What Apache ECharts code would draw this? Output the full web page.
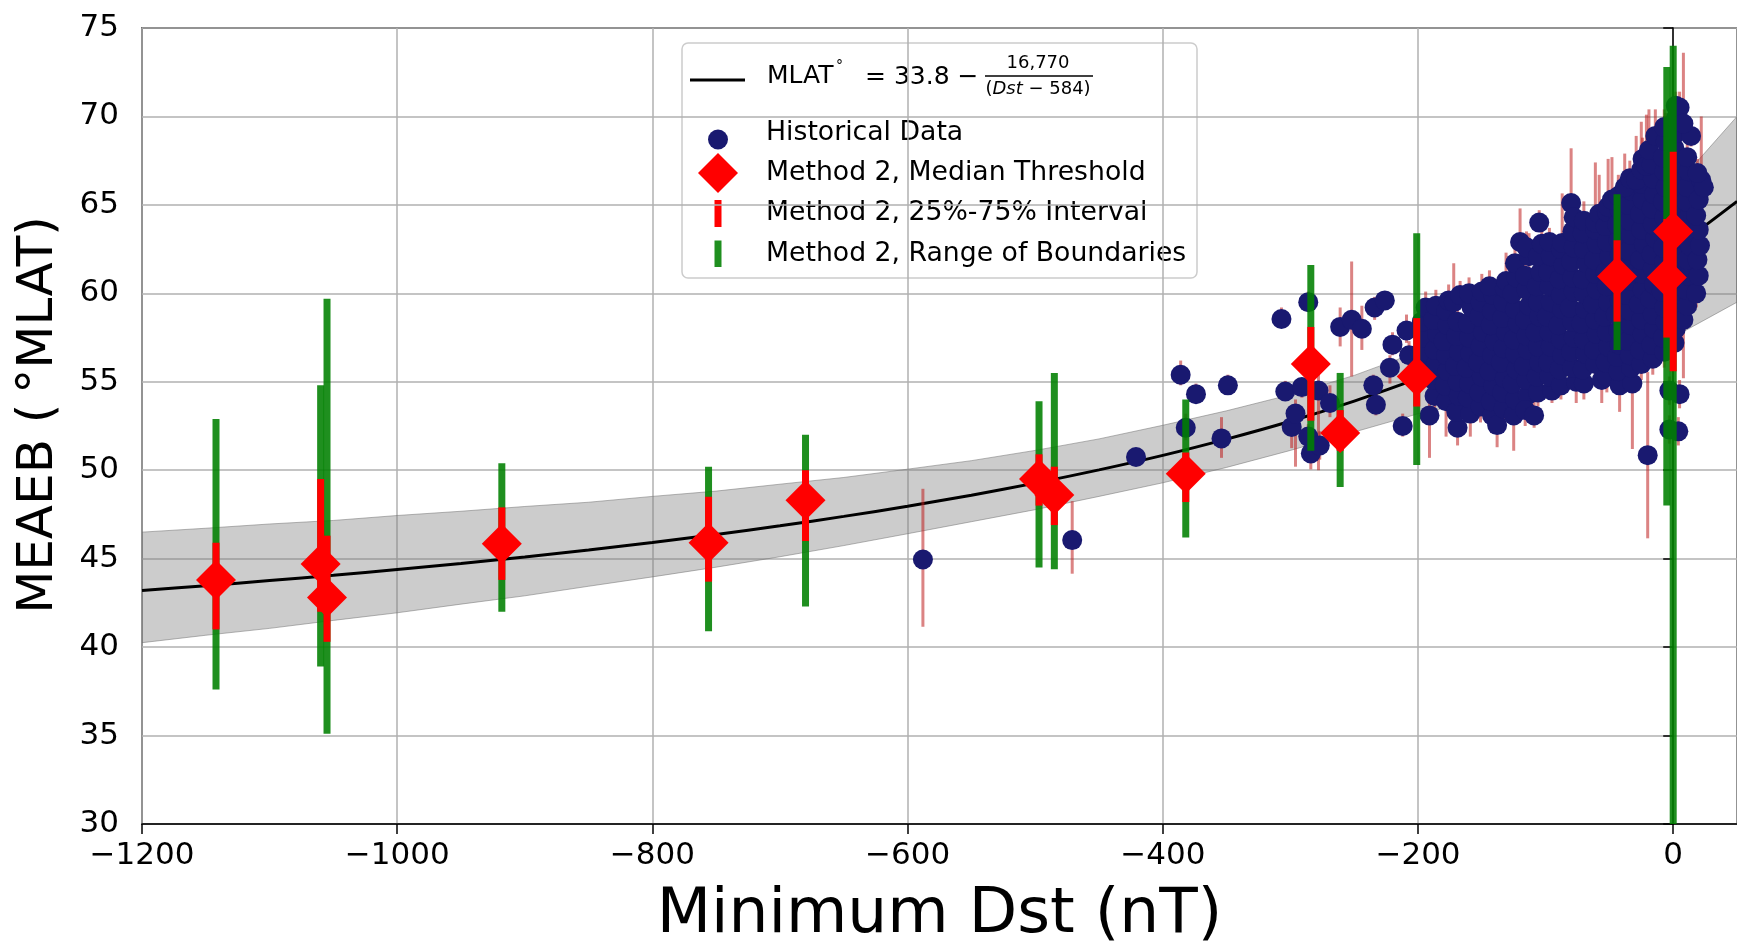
<!DOCTYPE html>
<html>
<head>
<meta charset="utf-8">
<script src="https://cdn.jsdelivr.net/npm/echarts@6/dist/echarts.min.js"></script>
<style>
  html, body { margin: 0; padding: 0; background: #ffffff; }
  #chart { width: 1737px; height: 947px; }
</style>
</head>
<body>
<div id="chart"></div>
<script>
// ---- axis ticks ----
const dstTicks = [-1200, -1000, -800, -600, -400, -200, 0];
const mlatTicks = [30, 35, 40, 45, 50, 55, 60, 65, 70, 75];

// ---- fitted boundary MLAT = 33.8 - 16770/(Dst - 584), sampled every 50 nT ----
const fitDst  = [-1200,-1150,-1100,-1050,-1000,-950,-900,-850,-800,-750,-700,-650,-600,-550,-500,-450,-400,-350,-300,-250,-200,-150,-100,-50,0,50];
const fitMlat = [43.20,43.47,43.76,44.06,44.39,44.73,45.10,45.49,45.92,46.37,46.86,47.39,47.96,48.59,49.27,50.02,50.84,51.76,52.77,53.91,55.19,56.65,58.32,60.25,62.52,65.20];

// ---- uncertainty band around the fit ----
const bandHigh = [46.50,46.72,46.96,47.16,47.44,47.68,47.95,48.19,48.52,48.82,49.21,49.59,50.06,50.54,51.12,51.77,52.54,53.36,54.27,55.36,56.69,58.45,60.52,62.95,65.92,70.00];
const bandLow  = [40.25,40.67,41.06,41.51,41.94,42.43,42.90,43.44,43.97,44.52,45.11,45.74,46.41,47.09,47.77,48.52,49.29,50.16,51.12,52.16,53.19,53.95,54.92,56.05,57.52,59.50];

// ---- Method 2 storms ----
const m2Dst    = [-1142,-1060,-1055,-918,-756,-680,-497,-485,-382,-284,-261,-201,-44,-5,0];
const m2Median = [43.8,44.7,42.8,45.85,45.9,48.3,49.5,48.6,49.8,56.0,52.1,55.3,60.95,60.9,63.5];
const m2Q25    = [41.0,42.0,40.3,43.8,43.7,46.0,48.0,46.9,48.2,52.8,51.1,53.6,58.4,57.5,55.6];
const m2Q75    = [45.9,49.5,46.3,47.9,48.5,50.0,50.9,50.2,51.0,58.1,53.4,58.6,63.0,64.2,68.0];
const m2Min    = [37.6,38.9,35.1,42.0,40.9,42.3,44.5,44.4,46.2,51.1,49.05,50.3,56.8,48.0,30.0];
const m2Max    = [52.9,54.8,59.7,50.4,50.2,52.0,53.9,55.5,54.0,61.6,55.5,63.4,65.6,72.8,74.0];

// ---- historical events: [Dst, MLAT, error below, error above] ----
const historical = [
  [-588,44.95,3.8,4.0],[-471,46.05,1.9,2.2],[-421,50.75,0.4,0.4],[-386,55.4,0.6,0.8],[-382,52.4,0.7,0.8],
  [-374,54.3,0.5,0.6],[-354,51.8,1.1,1.2],[-349,54.8,0.5,0.6],[-307,58.55,0.4,0.65],[-304,54.45,0.5,0.6],
  [-299,52.45,1.2,0.7],[-296,53.2,3.0,0.8],[-291,54.7,0.6,0.5],[-286,59.5,0.5,0.6],[-286,51.9,0.8,0.7],
  [-284,50.95,0.9,0.8],[-278,54.5,4.5,2.1],[-277,51.4,0.8,0.8],[-269,53.8,0.8,1.0],[-261,58.1,1.1,1.1],
  [-252,58.5,3.2,3.3],[-244,58.0,1.2,1.3],[-234,59.2,0.7,0.6],[-226,59.6,0.5,0.5],[-235,54.8,0.5,0.6],
  [-233,53.7,0.6,0.7],[-220,57.1,0.6,0.7],[-222,55.8,0.9,0.7],[-212,52.5,0.6,0.7],[-209,57.9,0.7,0.9],
  [-207,56.5,0.8,0.8],[-191,53.1,2.4,0.7],
  [-196,55.7,0.9,0.8],[-198,56.6,0.8,0.8],[-195,57.5,0.8,0.7],[-197,58.4,0.7,0.8],[-194,59.2,0.6,0.9],
  [-187,54.2,1.0,0.8],[-188,55.1,0.8,0.9],[-186,56.0,0.8,0.8],[-187,56.8,0.9,0.8],[-185,57.7,0.8,0.8],[-188,58.5,0.8,0.8],[-186,59.3,0.6,0.9],
  [-178,53.9,2.0,0.8],[-179,54.8,0.8,0.8],[-177,55.6,0.9,0.8],[-178,56.5,0.8,0.9],[-180,57.3,0.8,0.8],[-177,58.2,0.8,0.7],[-178,59.0,0.7,0.8],[-176,59.6,0.6,0.9],
  [-169,52.4,1.0,0.8],[-170,53.3,0.8,0.8],[-168,54.2,0.8,0.9],[-169,55.0,0.9,0.8],[-171,55.9,0.8,0.8],[-168,56.7,0.8,0.8],[-170,57.6,0.8,0.9],[-169,58.4,0.7,0.8],[-172,59.5,0.5,2.2],[-167,59.9,0.6,0.8],
  [-159,53.2,1.3,0.8],[-161,54.1,0.9,0.8],[-160,54.9,0.8,0.8],[-162,55.8,0.8,0.9],[-159,56.6,0.9,0.8],[-160,57.5,0.8,0.8],[-161,58.3,0.8,0.7],[-158,59.2,0.8,0.8],[-160,60.0,0.6,0.9],
  [-151,53.6,0.9,0.8],[-152,54.4,0.8,0.8],[-150,55.3,0.9,0.8],[-153,56.1,0.8,0.8],[-151,57.0,0.8,0.9],[-149,57.8,0.8,0.8],[-152,58.7,0.8,0.8],[-151,59.5,0.7,0.8],[-150,60.1,0.6,1.0],
  [-142,53.1,1.0,0.8],[-143,53.9,0.8,0.8],[-141,54.8,0.8,0.9],[-144,55.6,0.9,0.8],[-142,56.5,0.8,0.8],[-140,57.3,0.8,0.8],[-143,58.2,0.8,0.9],[-142,59.0,0.7,0.8],[-141,59.9,0.8,0.8],[-144,60.4,0.6,0.9],
  [-138,52.55,1.25,0.8],[-133,53.5,0.9,0.8],[-134,54.4,0.8,0.9],[-132,55.2,0.8,0.8],[-135,56.1,0.9,0.8],[-133,56.9,0.8,0.8],[-131,57.8,0.8,0.8],[-134,58.6,0.8,0.9],[-133,59.5,0.7,0.8],[-132,60.3,0.7,0.8],[-131,60.7,0.6,1.6],
  [-125,53.1,2.0,0.8],[-124,54.0,0.8,0.8],[-126,54.9,0.9,0.8],[-123,55.7,0.8,0.8],[-124,56.6,0.8,0.9],[-125,57.4,0.8,0.8],[-122,58.3,0.9,0.8],[-124,59.1,0.8,0.8],[-126,60.0,0.8,0.8],[-123,60.9,0.7,0.8],[-120,62.9,0.5,1.9],[-124,61.7,0.7,0.9],
  [-114,54.25,0.8,0.8],[-116,53.4,0.9,0.8],[-115,55.1,0.8,0.8],[-117,55.9,0.9,0.8],[-114,56.8,0.8,0.8],[-115,57.6,0.8,0.9],[-116,58.5,0.8,0.8],[-113,59.3,0.9,0.8],[-115,60.2,0.8,0.8],[-116,61.0,0.7,0.8],[-113,62.1,0.6,1.3],[-115,62.6,0.6,0.9],
  [-109,53.1,0.7,0.8],[-106,54.4,0.8,0.8],[-107,55.3,0.8,0.9],[-105,56.1,0.8,0.8],[-106,57.0,0.9,0.8],[-108,57.8,0.8,0.8],[-105,58.7,0.8,0.8],[-106,59.5,0.8,0.9],[-107,60.4,0.8,0.8],[-104,61.2,0.7,0.8],[-106,62.1,0.7,0.8],[-105,64.0,0.5,0.7],[-103,62.8,0.6,0.9],
  [-95,54.5,0.7,0.8],[-97,55.3,0.8,0.8],[-98,56.1,0.9,0.8],[-96,57.0,0.8,0.8],[-97,57.8,0.8,0.9],[-99,58.7,0.8,0.8],[-96,59.5,0.8,0.8],[-97,60.4,0.8,0.8],[-98,61.2,0.7,0.9],[-96,62.1,0.7,0.8],[-97,62.9,0.6,0.8],
  [-88,54.8,0.8,0.8],[-89,55.7,0.9,0.8],[-87,56.5,0.8,0.8],[-88,57.4,0.8,0.9],[-90,58.2,0.8,0.8],[-87,59.1,0.8,0.8],[-88,59.9,0.8,0.8],[-89,60.8,0.7,0.9],[-86,61.6,0.8,0.8],[-88,62.5,0.7,0.8],[-87,62.85,0.6,2.8],
  [-76,55.0,1.2,0.8],[-79,55.8,0.8,0.8],[-80,56.7,0.8,0.9],[-78,57.5,0.9,0.8],[-79,58.4,0.8,0.8],[-81,59.2,0.8,0.8],[-78,60.1,0.8,0.9],[-79,60.9,0.8,0.8],[-80,61.8,0.7,0.8],[-78,62.6,0.8,0.8],[-79,63.5,0.7,0.9],[-80,65.1,0.6,3.1],[-78,64.3,0.6,1.0],
  [-70,54.9,0.9,0.8],[-71,55.7,0.8,0.8],[-69,56.6,0.8,0.9],[-70,57.4,0.9,0.8],[-72,58.3,0.8,0.8],[-69,59.1,0.8,0.8],[-70,60.0,0.8,0.8],[-71,60.8,0.8,0.9],[-68,61.7,0.8,0.8],[-70,62.5,0.7,0.8],[-71,63.4,0.7,0.8],[-70,64.1,0.6,1.1],
  [-56,55.1,1.3,0.8],[-61,56.0,0.8,0.8],[-62,56.8,0.8,0.9],[-60,57.7,0.9,0.8],[-61,58.5,0.8,0.8],[-63,59.4,0.8,0.8],[-60,60.2,0.8,0.9],[-61,61.1,0.8,0.8],[-62,61.9,0.7,0.8],[-60,62.8,0.8,0.8],[-61,63.6,0.7,0.9],[-61,64.0,0.6,3.4],[-58,64.5,0.6,2.2],
  [-52,55.3,0.9,0.8],[-53,56.1,0.8,0.8],[-51,57.0,0.8,0.9],[-52,57.8,0.9,0.8],[-54,58.7,0.8,0.8],[-51,59.5,0.8,0.8],[-52,60.4,0.8,0.9],[-53,61.2,0.8,0.8],[-50,62.1,0.7,0.8],[-52,62.9,0.8,0.8],[-53,63.8,0.7,0.8],[-52,64.6,0.7,0.9],[-51,64.9,0.6,2.7],
  [-42,54.8,1.5,0.7],[-43,55.6,0.8,0.8],[-44,56.4,0.9,0.8],[-42,57.1,0.8,0.8],[-43,57.9,0.8,0.9],[-45,58.8,0.8,0.8],[-42,59.6,0.8,0.8],[-43,60.5,0.8,0.8],[-44,61.3,0.7,0.9],[-42,62.2,0.8,0.8],[-43,63.0,0.7,0.8],[-44,63.9,0.7,0.8],[-42,64.7,0.7,0.9],[-48,65.3,0.6,2.4],[-43,65.5,0.6,1.2],
  [-32,54.9,3.7,0.8],[-33,55.8,1.0,0.8],[-34,56.5,0.8,0.8],[-35,57.3,0.8,0.9],[-33,58.2,0.9,0.8],[-34,59.0,0.8,0.8],[-36,59.9,0.8,0.8],[-33,60.7,0.8,0.9],[-34,61.6,0.8,0.8],[-35,62.4,0.7,0.8],[-33,63.3,0.8,0.8],[-34,64.1,0.7,0.9],[-35,65.0,0.7,0.8],[-33,65.8,0.7,0.8],[-38,66.0,0.5,1.9],[-34,66.5,0.6,1.0],
  [-25,56.0,0.9,0.8],[-26,56.8,0.8,0.8],[-24,57.7,0.8,0.9],[-25,58.5,0.9,0.8],[-27,59.4,0.8,0.8],[-24,60.2,0.8,0.8],[-25,61.1,0.8,0.9],[-26,61.9,0.8,0.8],[-23,62.8,0.7,0.8],[-25,63.6,0.8,0.8],[-26,64.5,0.7,0.8],[-24,65.3,0.7,0.9],[-25,66.2,0.7,0.8],[-29,66.4,0.6,2.5],[-25,67.0,0.6,2.7],[-24,67.6,0.6,1.2],
  [-16,56.3,0.9,0.8],[-17,57.1,0.8,0.8],[-15,58.0,0.8,0.9],[-16,58.8,0.9,0.8],[-18,59.7,0.8,0.8],[-15,60.5,0.8,0.8],[-16,61.4,0.8,0.9],[-17,62.2,0.8,0.8],[-14,63.1,0.7,0.8],[-16,63.9,0.8,0.8],[-17,64.8,0.7,0.8],[-15,65.6,0.7,0.9],[-16,66.5,0.7,0.8],[-21,67.2,0.6,2.9],[-17,67.3,0.6,1.4],[-19,68.1,0.6,2.3],[-14,68.9,0.6,1.5],
  [-7,56.7,0.9,0.8],[-8,57.5,0.8,0.8],[-6,58.4,0.8,0.9],[-7,59.2,0.9,0.8],[-9,60.1,0.8,0.8],[-6,60.9,0.8,0.8],[-7,61.8,0.8,0.9],[-8,62.6,0.8,0.8],[-5,63.5,0.7,0.8],[-7,64.3,0.8,0.8],[-8,65.2,0.7,0.8],[-6,66.0,0.7,0.9],[-7,66.9,0.7,0.8],[-8,67.7,0.7,0.8],[-6,68.6,0.6,1.6],[-7,69.4,0.6,1.0],
  [1,57.2,0.9,0.8],[2,58.0,0.8,0.8],[3,58.9,0.8,0.9],[1,59.7,0.9,0.8],[2,60.6,0.8,0.8],[4,61.4,0.8,0.8],[2,62.3,0.8,0.9],[1,63.1,0.8,0.8],[3,64.0,0.7,0.8],[2,64.8,0.8,0.8],[1,65.7,0.7,0.8],[3,66.5,0.7,0.9],[2,67.4,0.7,0.8],[1,68.2,0.7,0.8],[3,69.1,0.6,1.0],[2,69.9,0.6,0.9],[2,70.6,0.6,0.8],[5,70.5,0.6,0.9],
  [8,58.5,3.3,0.8],[11,59.3,0.8,0.8],[10,60.2,0.8,0.9],[12,61.0,0.9,0.8],[11,61.9,0.8,0.8],[13,62.7,0.8,0.8],[11,63.6,0.8,0.9],[12,64.3,0.8,0.8],[10,65.2,0.7,0.8],[11,66.0,0.8,0.8],[12,66.9,0.7,0.8],[11,67.7,0.7,0.9],[14,68.9,0.6,0.9],[8,69.6,0.7,4.0],
  [18,60.0,0.8,0.8],[20,61.0,0.8,0.8],[19,61.9,0.8,0.9],[21,62.7,0.9,0.8],[20,63.6,0.8,0.8],[18,64.4,0.8,0.8],[20,65.3,0.8,0.9],[22,66.4,0.6,3.6],[24,66.0,0.7,0.7],[19,66.8,0.7,0.8],
  [-20,50.85,4.7,4.7],[-3,54.5,0.8,0.8],[5,54.3,0.8,0.8],[4,52.2,0.8,0.8],[-3,52.3,0.8,0.8]
];

// ---- colours ----
const NAVY = '#191970';
const RED = '#ff0000';
const GREEN = 'rgba(0,128,0,0.88)';
const ERR = 'rgba(190,30,30,0.55)';
const FONT = 'DejaVu Sans';

const m2Range = m2Dst.map((d, i) => [d, m2Min[i], m2Max[i]]);
const m2Iqr = m2Dst.map((d, i) => [d, m2Q25[i], m2Q75[i]]);
const m2Mid = m2Dst.map((d, i) => [d, m2Median[i]]);

function fmtTick(v) {
  return v < 0 ? '\u2212' + Math.abs(v) : String(v);
}

// vertical bar of fixed pixel width from value(1) to value(2)
function barRenderer(width, color) {
  return function (params, api) {
    const top = api.coord([api.value(0), api.value(2)]);
    const bot = api.coord([api.value(0), api.value(1)]);
    return {
      type: 'rect',
      shape: { x: top[0] - width / 2, y: top[1], width: width, height: bot[1] - top[1] },
      style: { fill: color }
    };
  };
}

const chart = echarts.init(document.getElementById('chart'), null, { renderer: 'canvas' });

const LEG_FONT = '26.7px "DejaVu Sans"';
const legendItems = [
  { type: 'rect', shape: { x: 682, y: 43, width: 515, height: 235, r: 6 },
    style: { fill: 'rgba(255,255,255,0.8)', stroke: '#cccccc', lineWidth: 1.5 } },
  { type: 'line', shape: { x1: 690, y1: 80, x2: 745, y2: 80 }, style: { stroke: '#000', lineWidth: 3 } },
  { type: 'text', x: 767, y: 76, style: { text: 'MLAT', font: '25px "DejaVu Sans"', fill: '#000', align: 'left', verticalAlign: 'middle' } },
  { type: 'text', x: 836, y: 66, style: { text: '°', font: '14px "DejaVu Sans"', fill: '#000', align: 'left', verticalAlign: 'middle' } },
  { type: 'text', x: 865, y: 77, style: { text: '= 33.8 \u2212', font: '25px "DejaVu Sans"', fill: '#000', align: 'left', verticalAlign: 'middle' } },
  { type: 'text', x: 1038, y: 63, style: { text: '16,770', font: '18px "DejaVu Sans"', fill: '#000', align: 'center', verticalAlign: 'middle' } },
  { type: 'line', shape: { x1: 985, y1: 76, x2: 1093, y2: 76 }, style: { stroke: '#000', lineWidth: 1.3 } },
  { type: 'text', x: 1038, y: 89, style: {
      text: '({i|Dst} \u2212 584)', font: '18px "DejaVu Sans"', fill: '#000', align: 'center', verticalAlign: 'middle',
      rich: { i: { fontStyle: 'italic', fontSize: 18, fontFamily: FONT, fill: '#000' } } } },
  { type: 'circle', shape: { cx: 718, cy: 139.5, r: 10 }, style: { fill: NAVY } },
  { type: 'text', x: 766, y: 133, style: { text: 'Historical Data', font: LEG_FONT, fill: '#000', align: 'left', verticalAlign: 'middle' } },
  { type: 'polygon', shape: { points: [[718, 153], [738, 173], [718, 193], [698, 173]] }, style: { fill: RED } },
  { type: 'text', x: 766, y: 173, style: { text: 'Method 2, Median Threshold', font: LEG_FONT, fill: '#000', align: 'left', verticalAlign: 'middle' } },
  { type: 'rect', shape: { x: 714.5, y: 200, width: 7, height: 27 }, style: { fill: RED } },
  { type: 'text', x: 766, y: 213, style: { text: 'Method 2, 25%-75% Interval', font: LEG_FONT, fill: '#000', align: 'left', verticalAlign: 'middle' } },
  { type: 'rect', shape: { x: 714.5, y: 240.5, width: 7, height: 26.5 }, style: { fill: GREEN } },
  { type: 'text', x: 766, y: 254, style: { text: 'Method 2, Range of Boundaries', font: LEG_FONT, fill: '#000', align: 'left', verticalAlign: 'middle' } }
];

const option = {
  animation: false,
  backgroundColor: '#ffffff',
  grid: { left: 142, right: 0, top: 28, bottom: 123, containLabel: false, outerBoundsMode: 'none',
    show: true, borderColor: '#000', borderWidth: 1.5, backgroundColor: 'transparent' },
  xAxis: {
    type: 'value', min: dstTicks[0], max: 50, interval: 200,
    name: 'Minimum Dst (nT)', nameLocation: 'middle', nameGap: 60,
    nameTextStyle: { fontSize: 63, color: '#000', fontFamily: FONT },
    axisLine: { show: true, onZero: false, lineStyle: { color: '#000', width: 1.5 } },
    axisTick: { show: true, inside: false, length: 10, lineStyle: { color: '#000', width: 1.5 } },
    axisLabel: { fontSize: 31, color: '#000', fontFamily: FONT, margin: 16, showMaxLabel: false,
      formatter: v => (dstTicks.indexOf(v) >= 0 ? fmtTick(v) : '') },
    splitLine: { show: true, lineStyle: { color: '#b0b0b0', width: 1.5 } }
  },
  yAxis: {
    type: 'value', min: mlatTicks[0], max: mlatTicks[mlatTicks.length - 1], interval: 5,
    name: 'MEAEB (\u2009°MLAT)', nameLocation: 'middle', nameGap: 78,
    nameTextStyle: { fontSize: 50, color: '#000', fontFamily: FONT, padding: [0, 0, 0, 22] },
    axisLine: { show: true, lineStyle: { color: '#000', width: 1.5 } },
    axisTick: { show: true, inside: false, length: 10, lineStyle: { color: '#000', width: 1.5 } },
    axisLabel: { fontSize: 31, color: '#000', fontFamily: FONT, margin: 23 },
    splitLine: { show: true, lineStyle: { color: '#b0b0b0', width: 1.5 } }
  },
  graphic: [{ type: 'group', z: 100, children: legendItems }],
  series: [
    {
      name: 'band', type: 'custom', z: 1, clip: true,
      data: [[fitDst[0], fitMlat[0]]],
      renderItem: function (params, api) {
        const upper = fitDst.map((d, i) => api.coord([d, bandHigh[i]]));
        const lower = fitDst.map((d, i) => api.coord([d, bandLow[i]])).reverse();
        return {
          type: 'polygon',
          shape: { points: upper.concat(lower) },
          style: { fill: 'rgba(128,128,128,0.4)', stroke: 'rgba(110,110,110,0.5)', lineWidth: 1 }
        };
      }
    },
    {
      name: 'fit', type: 'line', z: 2, smooth: 0.3, symbol: 'none',
      data: fitDst.map((d, i) => [d, fitMlat[i]]),
      lineStyle: { color: '#000', width: 3 }
    },
    {
      name: 'historical error', type: 'custom', z: 3, clip: true,
      data: historical,
      encode: { x: 0, y: 1 },
      renderItem: function (params, api) {
        const x = api.value(0), y = api.value(1);
        const a = api.coord([x, y - api.value(2)]);
        const b = api.coord([x, y + api.value(3)]);
        return { type: 'line', shape: { x1: a[0], y1: a[1], x2: b[0], y2: b[1] },
          style: { stroke: ERR, lineWidth: 3 } };
      }
    },
    {
      name: 'Historical Data', type: 'scatter', z: 4,
      symbol: 'circle', symbolSize: 20,
      data: historical.map(r => [r[0], r[1]]),
      itemStyle: { color: NAVY, opacity: 1 }
    },
    {
      name: 'Method 2, Range of Boundaries', type: 'custom', z: 5, clip: true,
      data: m2Range, encode: { x: 0, y: [1, 2] },
      renderItem: barRenderer(7, GREEN)
    },
    {
      name: 'Method 2, 25%-75% Interval', type: 'custom', z: 6, clip: true,
      data: m2Iqr, encode: { x: 0, y: [1, 2] },
      renderItem: barRenderer(7, RED)
    },
    {
      name: 'Method 2, Median Threshold', type: 'scatter', z: 7,
      symbol: 'diamond', symbolSize: [40, 40],
      data: m2Mid,
      itemStyle: { color: RED, opacity: 1 }
    }
  ]
};

chart.setOption(option);
</script>
</body>
</html>
